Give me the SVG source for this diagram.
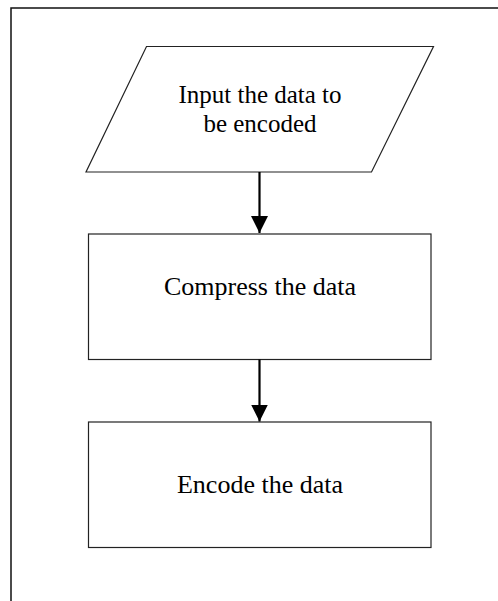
<svg xmlns="http://www.w3.org/2000/svg" width="498" height="601" viewBox="0 0 498 601">
  <style>
    .shape { fill: #ffffff; stroke: #222222; stroke-width: 1.2; }
    .label { font-family: "Liberation Serif", "Times New Roman", serif; font-size: 26px; fill: #000000; text-anchor: middle; }
    .label-small { font-size: 25px; }
    .flow { stroke: #000000; stroke-width: 2.2; fill: none; }
  </style>
  <defs>
    <marker id="arrowhead" markerUnits="userSpaceOnUse" markerWidth="18" markerHeight="24" refX="17" refY="8.5" orient="auto">
      <path d="M0,0 L17,8.5 L0,17 Z" fill="#000000"/>
    </marker>
  </defs>
  <rect width="498" height="601" fill="#ffffff"/>
  <!-- page frame: open at the right and bottom -->
  <path d="M11,601 L11,8 L498,8" fill="none" stroke="#111111" stroke-width="1.5"/>

  <g id="node-input">
    <polygon class="shape" points="146.5,46.5 433.5,46.5 371.5,172 86,172"/>
    <text class="label label-small" x="260" y="103">Input the data to</text>
    <text class="label label-small" x="260" y="132">be encoded</text>
  </g>

  <g id="node-compress">
    <rect class="shape" x="88.5" y="234" width="342.5" height="125.5"/>
    <text class="label" x="260" y="295">Compress the data</text>
  </g>

  <g id="node-encode">
    <rect class="shape" x="88.5" y="422" width="342.5" height="125.5"/>
    <text class="label" x="260" y="492.5">Encode the data</text>
  </g>

  <g id="connectors">
    <line class="flow" x1="259.5" y1="172" x2="259.5" y2="233" marker-end="url(#arrowhead)"/>
    <line class="flow" x1="259.5" y1="359.5" x2="259.5" y2="421.5" marker-end="url(#arrowhead)"/>
  </g>
</svg>
